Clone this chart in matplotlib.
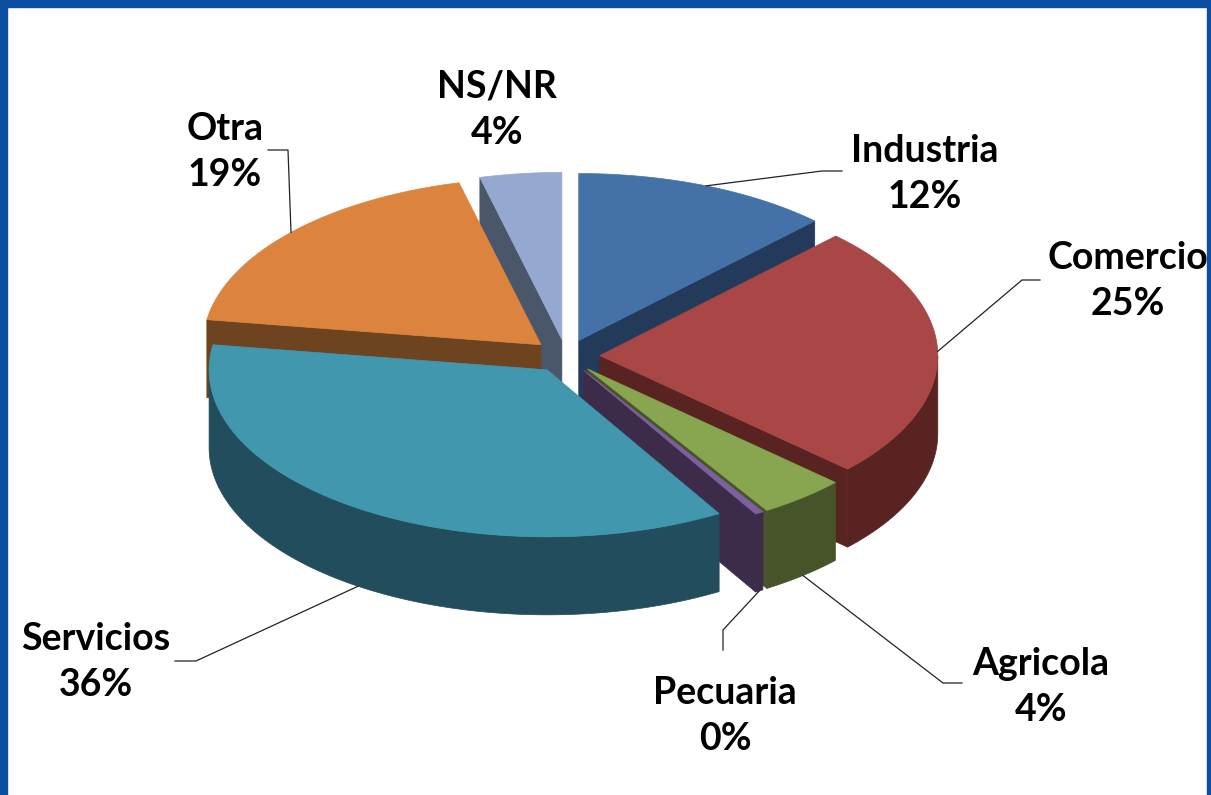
import numpy as np
import matplotlib
matplotlib.use("Agg")
import matplotlib.pyplot as plt
from matplotlib.patches import Polygon, Rectangle

# data (percent shares, clockwise from 12 o'clock)
labels = ["Industria", "Comercio", "Agricola", "Pecuaria", "Servicios", "Otra", "NS/NR"]
values = [12.3, 24.6, 4.2, 0.4, 35.9, 18.7, 3.9]
top_colors = ["#4472a8", "#a84745", "#87a64f", "#7d60a0", "#4197ae", "#dc843d", "#94a8d0"]
side_colors = ["#243a5a", "#592322", "#475429", "#3c2c4a", "#224d5c", "#6d4320", "#4a5669"]

# label centres and leader elbows (pixels)
label_pos = [(925, 174), (1128, 281), (1041, 687), (725, 716), (96, 662), (225, 152), (497, 110)]
leaders = [[(822, 171), (842, 171)],
           [(1022, 280), (1040, 280)],
           [(943, 683), (962, 683)],
           [(723, 630), (723, 650)],
           [(196, 661), (175, 661)],
           [(288, 150), (268, 150)],
           None]

W, H = 1211, 795
CX, CY = 566, 356
A, B = 338, 167
D = 78
EXPL = 0.1

fig = plt.figure(figsize=(W / 100, H / 100), dpi=100)
ax = fig.add_axes([0, 0, 1, 1])
ax.set_xlim(0, W)
ax.set_ylim(H, 0)
ax.axis("off")


def pt(cx, cy, t):
    r = np.radians(t)
    return cx + A * np.cos(r), cy - B * np.sin(r)


def arc(cx, cy, t1, t2, n=80):
    ts = np.linspace(t1, t2, max(3, int(abs(t1 - t2) / 360 * n * 4)))
    r = np.radians(ts)
    return np.column_stack([cx + A * np.cos(r), cy - B * np.sin(r)])


slices = []
start = 90.0
for i, v in enumerate(values):
    span = v * 3.6
    s, e = start, start - span
    m = np.radians((s + e) / 2)
    cx = CX + EXPL * A * np.cos(m)
    cy = CY - EXPL * B * np.sin(m)
    top = np.vstack([[cx, cy], arc(cx, cy, s, e)])
    sides = []
    # radial faces turned towards the viewer
    if np.cos(np.radians(s)) < -1e-9:
        p = pt(cx, cy, s)
        sides.append([(cx, cy), p, (p[0], p[1] + D), (cx, cy + D)])
    if np.cos(np.radians(e)) > 1e-9:
        p = pt(cx, cy, e)
        sides.append([(cx, cy), p, (p[0], p[1] + D), (cx, cy + D)])
    # outer wall on the front half
    for k in (-1, 0, 1):
        lo, hi = max(e, -180 + 360 * k), min(s, 360 * k)
        if hi > lo:
            a_ = arc(cx, cy, hi, lo)
            sides.append(np.vstack([a_, (a_ + [0, D])[::-1]]))
    slices.append(dict(top=top, sides=sides, cx=cx, cy=cy, m=(s + e) / 2,
                       key=top[:, 1].max()))
    start = e

order = sorted(range(len(slices)), key=lambda j: slices[j]["key"])
for j in order:
    for sd in slices[j]["sides"]:
        ax.add_patch(Polygon(sd, closed=True, facecolor=side_colors[j],
                             edgecolor=side_colors[j], lw=0.5))
for j in order:
    ax.add_patch(Polygon(slices[j]["top"], closed=True, facecolor=top_colors[j],
                         edgecolor=top_colors[j], lw=0.5))

# labels and leader lines
for j, name in enumerate(labels):
    sl = slices[j]
    x, y = label_pos[j]
    ax.text(x, y, f"{name}\n{round(values[j])}%", ha="center", va="center",
            fontsize=27, fontweight="bold", family="Lato", linespacing=1.45,
            color="black")
    if leaders[j] is None:
        continue
    ax_, ay_ = pt(sl["cx"], sl["cy"], sl["m"])
    if np.sin(np.radians(sl["m"])) < 0:
        ay_ += D
    xs = [ax_] + [p[0] for p in leaders[j]]
    ys = [ay_] + [p[1] for p in leaders[j]]
    ax.plot(xs, ys, color="#222222", lw=0.9)

# blue frame
blue = "#0b4ea2"
ax.add_patch(Rectangle((0, 0), 7, H, color=blue, zorder=5))
ax.add_patch(Rectangle((0, 0), W, 7, color=blue, zorder=5))
ax.add_patch(Rectangle((1207, 0), 4, H, color=blue, zorder=5))

fig.savefig("out.png", dpi=100)
